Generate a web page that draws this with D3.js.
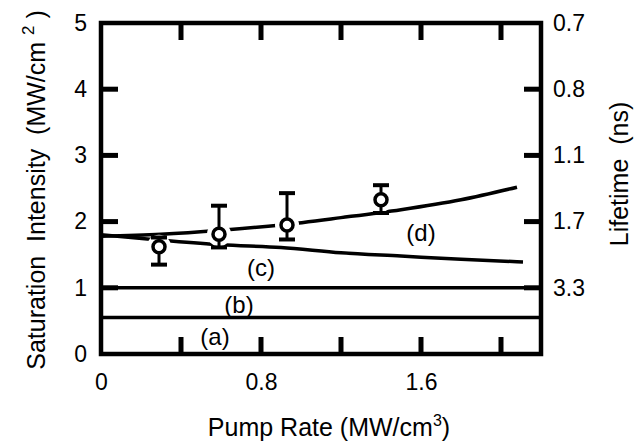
<!DOCTYPE html>
<html>
<head>
<meta charset="utf-8">
<script src="https://cdn.jsdelivr.net/npm/d3@7"></script>
<style>
  body { margin: 0; background: #fff; }
  svg { display: block; font-family: "Liberation Sans", Arial, Helvetica, sans-serif; }
  text { white-space: pre; }
</style>
</head>
<body>
<svg id="chart" width="635" height="443"></svg>
<script>
// x ticks (pump rate) and which ones get a label
var xTicks = [0, 0.4, 0.8, 1.2, 1.6, 2.0];
var xLabels = [0, 0.8, 1.6];
var yTicks = [0, 1, 2, 3, 4, 5];
// right axis: lifetime (ns) written at the intensity ticks
var lifePos = [1, 2, 3, 4, 5];
var lifeLabels = ['3.3', '1.7', '1.1', '0.8', '0.7'];

// flat lines (a) and (b)
var lineA = 0.55, lineB = 1.0;

// curve (c)
var cX = [0, 0.3, 0.6, 0.9, 1.2, 1.5, 1.8, 2.11];
var cY = [1.80, 1.72, 1.65, 1.61, 1.53, 1.48, 1.43, 1.39];
// curve (d)
var dX = [0, 0.3, 0.6, 0.9, 1.2, 1.5, 1.8, 2.08];
var dY = [1.78, 1.81, 1.87, 1.95, 2.06, 2.18, 2.33, 2.52];

// measured points with error bars
var ptX = [0.29, 0.59, 0.93, 1.40];
var ptY = [1.62, 1.81, 1.95, 2.33];
var ptLo = [1.35, 1.61, 1.73, 2.13];
var ptHi = [1.76, 2.24, 2.43, 2.55];

var curveLabels = ['(a)', '(b)', '(c)', '(d)'];
var curveLabelX = [0.57, 0.69, 0.80, 1.60];
var curveLabelY = [0.26, 0.74, 1.30, 1.84];

var svg = d3.select('#chart');
var x = d3.scaleLinear().domain([0, 2.2]).range([101, 541]);
var y = d3.scaleLinear().domain([0, 5]).range([354, 23]);

function styleAxis(sel) {
    sel.select('.domain').remove();
    sel.selectAll('.tick line').remove();
    sel.selectAll('.tick text').attr('fill', '#000').attr('font-size', 23).attr('font-family', null);
}

var g = svg.append('g');
var x0 = x(0), x1 = x(2.2), y0 = y(0), y1 = y(5);
var tickLen = 17, tickW = 5;

// (a), (b)
g.selectAll('line.flat')
    .data([lineA, lineB])
    .enter()
    .append('line')
    .attr('class', 'flat')
    .attr('x1', x0).attr('x2', x1)
    .attr('y1', function(d) { return y(d); })
    .attr('y2', function(d) { return y(d); })
    .attr('stroke', '#000')
    .attr('stroke-width', 3.5);

var curveLine = d3.line()
    .x(function(d) { return x(d[0]); })
    .y(function(d) { return y(d[1]); })
    .curve(d3.curveMonotoneX);

g.append('path')
    .attr('d', curveLine(d3.zip(cX, cY)))
    .attr('fill', 'none').attr('stroke', '#000').attr('stroke-width', 3.5);
g.append('path')
    .attr('d', curveLine(d3.zip(dX, dY)))
    .attr('fill', 'none').attr('stroke', '#000').attr('stroke-width', 3.5);

var pts = d3.range(ptX.length);

// white gap round each marker
g.selectAll('circle.halo')
    .data(pts)
    .enter()
    .append('circle')
    .attr('class', 'halo')
    .attr('cx', function(i) { return x(ptX[i]); })
    .attr('cy', function(i) { return y(ptY[i]); })
    .attr('r', 12)
    .attr('fill', '#fff');

// error bars
g.selectAll('line.err')
    .data(pts)
    .enter()
    .append('line')
    .attr('class', 'err')
    .attr('x1', function(i) { return x(ptX[i]); })
    .attr('x2', function(i) { return x(ptX[i]); })
    .attr('y1', function(i) { return y(ptLo[i]); })
    .attr('y2', function(i) { return y(ptHi[i]); })
    .attr('stroke', '#000').attr('stroke-width', 3);

g.selectAll('line.cap')
    .data(pts.map(function(i) { return [i, ptLo[i]]; })
        .concat(pts.map(function(i) { return [i, ptHi[i]]; })))
    .enter()
    .append('line')
    .attr('class', 'cap')
    .attr('x1', function(d) { return x(ptX[d[0]]) - 8; })
    .attr('x2', function(d) { return x(ptX[d[0]]) + 8; })
    .attr('y1', function(d) { return y(d[1]); })
    .attr('y2', function(d) { return y(d[1]); })
    .attr('stroke', '#000').attr('stroke-width', 4);

g.selectAll('circle.pt')
    .data(pts)
    .enter()
    .append('circle')
    .attr('class', 'pt')
    .attr('cx', function(i) { return x(ptX[i]); })
    .attr('cy', function(i) { return y(ptY[i]); })
    .attr('r', 6)
    .attr('fill', '#fff')
    .attr('stroke', '#000').attr('stroke-width', 3.5);

// curve names
g.selectAll('text.lab')
    .data(curveLabels)
    .enter()
    .append('text')
    .attr('class', 'lab')
    .attr('x', function(d, i) { return x(curveLabelX[i]); })
    .attr('y', function(d, i) { return y(curveLabelY[i]); })
    .attr('dy', '0.35em')
    .attr('text-anchor', 'middle')
    .attr('font-size', 24)
    .text(function(d) { return d; });

// frame
g.append('rect')
    .attr('x', x0).attr('y', y1)
    .attr('width', x1 - x0).attr('height', y0 - y1)
    .attr('fill', 'none').attr('stroke', '#000').attr('stroke-width', 4.5);

// inward ticks as small filled bars
var xIn = xTicks.slice(1);
var yIn = yTicks.slice(1, -1);
var rIn = lifePos.slice(0, -1);
g.selectAll('rect.tb').data(xIn).enter().append('rect')
    .attr('class', 'tb')
    .attr('x', function(d) { return x(d) - tickW / 2; })
    .attr('y', y0 - tickLen)
    .attr('width', tickW).attr('height', tickLen)
    .attr('fill', '#000');
g.selectAll('rect.tt').data(xIn).enter().append('rect')
    .attr('class', 'tt')
    .attr('x', function(d) { return x(d) - tickW / 2; })
    .attr('y', y1)
    .attr('width', tickW).attr('height', tickLen)
    .attr('fill', '#000');
g.selectAll('rect.tl').data(yIn).enter().append('rect')
    .attr('class', 'tl')
    .attr('x', x0)
    .attr('y', function(d) { return y(d) - tickW / 2; })
    .attr('width', tickLen).attr('height', tickW)
    .attr('fill', '#000');
g.selectAll('rect.tr').data(rIn).enter().append('rect')
    .attr('class', 'tr')
    .attr('x', x1 - tickLen)
    .attr('y', function(d) { return y(d) - tickW / 2; })
    .attr('width', tickLen).attr('height', tickW)
    .attr('fill', '#000');

// tick labels from d3 axes
svg.append('g')
    .attr('transform', 'translate(0,' + y0 + ')')
    .call(d3.axisBottom(x).tickValues(xLabels).tickSize(0).tickPadding(20)
        .tickFormat(d3.format('')))
    .call(styleAxis);

svg.append('g')
    .attr('transform', 'translate(' + x0 + ',0)')
    .call(d3.axisLeft(y).tickValues(yTicks).tickSize(0).tickPadding(14).tickFormat(d3.format('d')))
    .call(styleAxis);

svg.append('g')
    .attr('transform', 'translate(' + x1 + ',0)')
    .call(d3.axisRight(y).tickValues(lifePos).tickSize(0).tickPadding(12)
        .tickFormat(function(d) { return lifeLabels[lifePos.indexOf(d)]; }))
    .call(styleAxis);

// axis titles
var xt = svg.append('text')
    .attr('x', 329).attr('y', 436)
    .attr('text-anchor', 'middle').attr('font-size', 25);
xt.append('tspan').text('Pump Rate (MW/cm');
xt.append('tspan').attr('dy', -10).attr('font-size', 16).text('3');
xt.append('tspan').attr('dy', 10).text(')');

var yt = svg.append('text')
    .attr('transform', 'translate(45,190) rotate(-90)')
    .attr('text-anchor', 'middle').attr('font-size', 25);
yt.append('tspan').text('Saturation  Intensity  (MW/cm ');
yt.append('tspan').attr('dy', -11).attr('font-size', 17).text('2');
yt.append('tspan').attr('dy', 11).text(' )');

svg.append('text')
    .attr('transform', 'translate(628,174) rotate(-90)')
    .attr('text-anchor', 'middle').attr('font-size', 25)
    .text('Lifetime  (ns)');
</script>
</body>
</html>
